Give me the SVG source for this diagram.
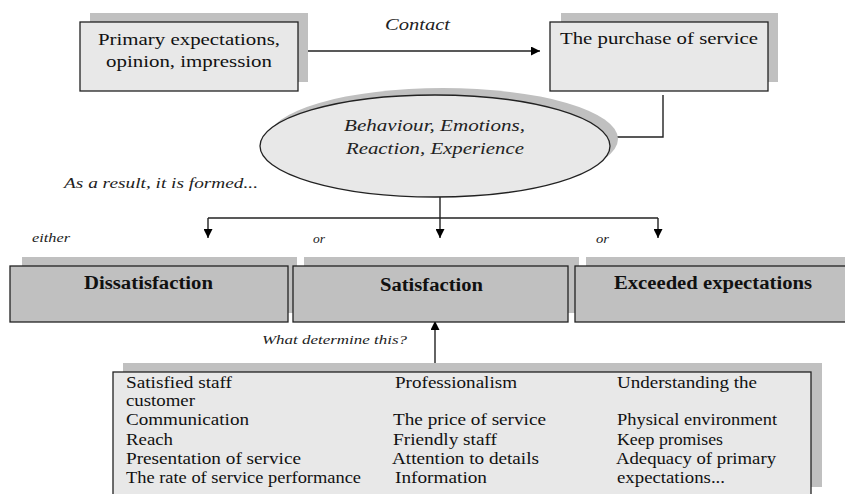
<svg xmlns="http://www.w3.org/2000/svg" width="845" height="494" viewBox="0 0 845 494">
<defs>
<marker id="ah" viewBox="0 0 10 10" refX="10" refY="5" markerWidth="10" markerHeight="9" markerUnits="userSpaceOnUse" orient="auto">
<path d="M0,0 L10,5 L0,10 z" fill="#000"/>
</marker>
<style>
.sh{fill:#c0c0c0;stroke:none}
.lt{fill:#e8e8e8;stroke:#222;stroke-width:1.3}
.gr{fill:#c0c0c0;stroke:#222;stroke-width:1.3}
.ln{fill:none;stroke:#222;stroke-width:1.4}
</style>
</defs>
<rect width="845" height="494" fill="#fff"/>
<g id="connectors">
<path class="ln" d="M298,51 H540" marker-end="url(#ah)"/>
<path class="ln" d="M663,95 V137 H610"/>
<path class="ln" d="M440,197 V238" marker-end="url(#ah)"/>
<path class="ln" d="M208,218 H658"/>
<path class="ln" d="M208,218 V238" marker-end="url(#ah)"/>
<path class="ln" d="M658,218 V238" marker-end="url(#ah)"/>
<path class="ln" d="M435,372 V321" marker-end="url(#ah)"/>
</g>
<g id="labels" font-family="Liberation Serif, serif" font-style="italic" fill="#222">
<text x="385" y="30" font-size="16" textLength="65" lengthAdjust="spacingAndGlyphs">Contact</text>
<text x="64" y="188" font-size="14" textLength="194" lengthAdjust="spacingAndGlyphs">As a result, it is formed...</text>
<text x="32" y="242" font-size="13" textLength="38" lengthAdjust="spacingAndGlyphs">either</text>
<text x="313" y="243" font-size="13" textLength="12" lengthAdjust="spacingAndGlyphs">or</text>
<text x="596" y="243" font-size="13" textLength="13" lengthAdjust="spacingAndGlyphs">or</text>
<text x="262" y="344" font-size="13" textLength="145" lengthAdjust="spacingAndGlyphs">What determine this?</text>
</g>
<g id="primary">
<rect class="sh" x="90" y="13" width="218" height="69"/>
<rect class="lt" x="80" y="22" width="218" height="69"/>
<g font-family="Liberation Serif, serif" font-size="17" fill="#111">
<text x="98" y="45" textLength="182" lengthAdjust="spacingAndGlyphs">Primary expectations,</text>
<text x="106" y="67" textLength="166" lengthAdjust="spacingAndGlyphs">opinion, impression</text>
</g>
</g>
<g id="purchase">
<rect class="sh" x="561" y="13" width="217" height="69"/>
<rect class="lt" x="550" y="22" width="218" height="69"/>
<text x="560" y="44" font-family="Liberation Serif, serif" font-size="17" fill="#111" textLength="198" lengthAdjust="spacingAndGlyphs">The purchase of service</text>
</g>
<g id="behaviour">
<ellipse class="sh" cx="443" cy="139" rx="175" ry="51"/>
<ellipse class="lt" cx="435" cy="146" rx="175" ry="51"/>
<g font-family="Liberation Serif, serif" font-style="italic" font-size="17" fill="#222">
<text x="344" y="131" textLength="181" lengthAdjust="spacingAndGlyphs">Behaviour, Emotions,</text>
<text x="346" y="154" textLength="178" lengthAdjust="spacingAndGlyphs">Reaction, Experience</text>
</g>
</g>
<g id="dissatisfaction">
<rect class="sh" x="22" y="257" width="275" height="56"/>
<rect class="gr" x="10" y="266" width="278" height="56"/>
<text x="84" y="289" font-family="Liberation Serif, serif" font-weight="bold" font-size="18" fill="#111" textLength="129" lengthAdjust="spacingAndGlyphs">Dissatisfaction</text>
</g>
<g id="satisfaction">
<rect class="sh" x="304" y="257" width="275" height="56"/>
<rect class="gr" x="293" y="266" width="275" height="56"/>
<text x="380" y="291" font-family="Liberation Serif, serif" font-weight="bold" font-size="18" fill="#111" textLength="103" lengthAdjust="spacingAndGlyphs">Satisfaction</text>
</g>
<g id="exceeded">
<rect class="sh" x="586" y="257" width="270" height="56"/>
<rect class="gr" x="575" y="266" width="280" height="56"/>
<text x="614" y="289" font-family="Liberation Serif, serif" font-weight="bold" font-size="18" fill="#111" textLength="198" lengthAdjust="spacingAndGlyphs">Exceeded expectations</text>
</g>
<g id="factors">
<rect class="sh" x="123" y="363" width="699" height="124"/>
<rect class="lt" x="113" y="372" width="698" height="130"/>
<g font-family="Liberation Serif, serif" font-size="16" fill="#111">
<text x="126" y="388" textLength="106" lengthAdjust="spacingAndGlyphs">Satisfied staff</text>
<text x="126" y="406" textLength="69" lengthAdjust="spacingAndGlyphs">customer</text>
<text x="126" y="425" textLength="123" lengthAdjust="spacingAndGlyphs">Communication</text>
<text x="126" y="445" textLength="47" lengthAdjust="spacingAndGlyphs">Reach</text>
<text x="126" y="464" textLength="175" lengthAdjust="spacingAndGlyphs">Presentation of service</text>
<text x="126" y="483" textLength="235" lengthAdjust="spacingAndGlyphs">The rate of service performance</text>
<text x="395" y="388" textLength="122" lengthAdjust="spacingAndGlyphs">Professionalism</text>
<text x="393" y="425" textLength="153" lengthAdjust="spacingAndGlyphs">The price of service</text>
<text x="393" y="445" textLength="104" lengthAdjust="spacingAndGlyphs">Friendly staff</text>
<text x="392" y="464" textLength="147" lengthAdjust="spacingAndGlyphs">Attention to details</text>
<text x="395" y="483" textLength="92" lengthAdjust="spacingAndGlyphs">Information</text>
<text x="617" y="388" textLength="140" lengthAdjust="spacingAndGlyphs">Understanding the</text>
<text x="617" y="425" textLength="160" lengthAdjust="spacingAndGlyphs">Physical environment</text>
<text x="617" y="445" textLength="106" lengthAdjust="spacingAndGlyphs">Keep promises</text>
<text x="616" y="464" textLength="160" lengthAdjust="spacingAndGlyphs">Adequacy of primary</text>
<text x="617" y="483" textLength="108" lengthAdjust="spacingAndGlyphs">expectations...</text>
</g>
</g>
</svg>
